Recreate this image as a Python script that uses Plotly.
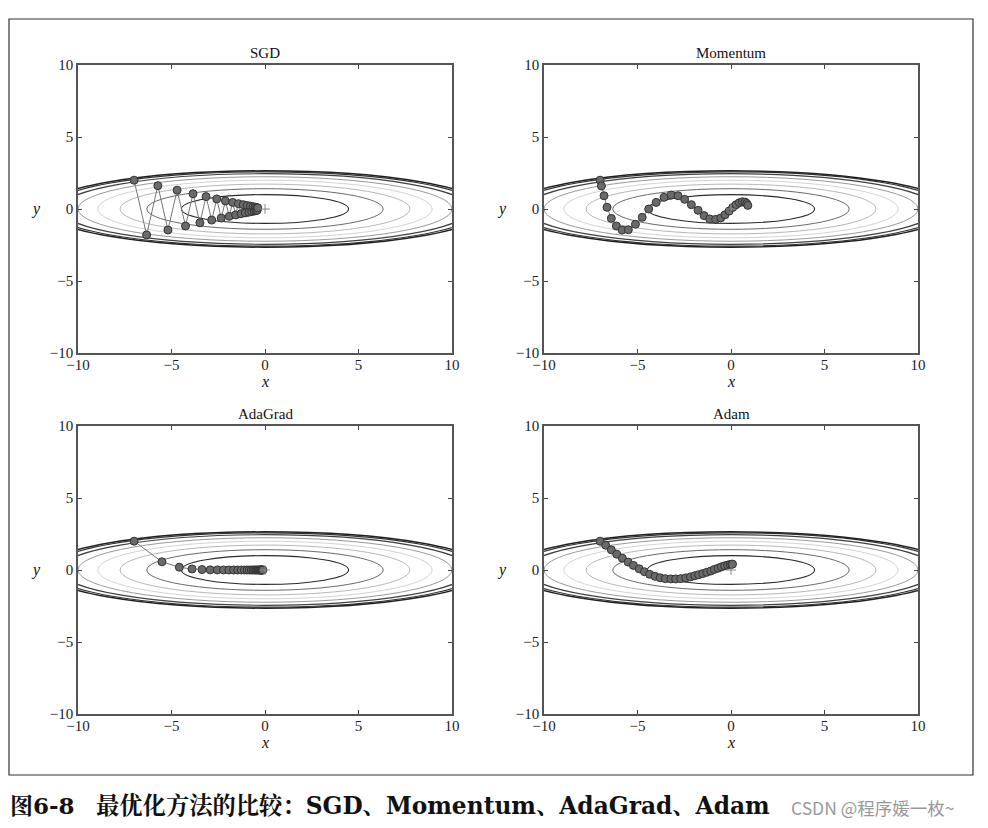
import plotly.graph_objects as go

# ---------------- data ----------------
titles = ["SGD", "Momentum", "AdaGrad", "Adam"]

sgd_x = [-7.0, -6.33, -5.73, -5.19, -4.70, -4.25, -3.85, -3.48, -3.15, -2.85, -2.58, -2.34, -2.12, -1.91,
         -1.73, -1.57, -1.42, -1.28, -1.16, -1.05, -0.95, -0.86, -0.78, -0.71, -0.64, -0.58, -0.53, -0.49,
         -0.45, -0.42, -0.39]
sgd_y = [2.0, -1.8, 1.62, -1.46, 1.31, -1.18, 1.06, -0.96, 0.86, -0.77, 0.70, -0.63, 0.56, -0.51, 0.46,
         -0.41, 0.37, -0.33, 0.30, -0.27, 0.24, -0.22, 0.20, -0.18, 0.16, -0.14, 0.13, -0.12, 0.10, -0.09, 0.08]

mom_x = [-7.0, -6.93, -6.79, -6.63, -6.40, -6.13, -5.82, -5.49, -5.11, -4.75, -4.40, -4.00, -3.58, -3.20,
         -2.83, -2.48, -2.12, -1.76, -1.44, -1.14, -0.82, -0.55, -0.32, -0.10, 0.09, 0.27, 0.45, 0.61, 0.75, 0.84, 0.90]
mom_y = [2.0, 1.6, 0.92, 0.12, -0.65, -1.18, -1.46, -1.44, -1.06, -0.58, 0.0, 0.46, 0.81, 0.97, 0.92, 0.67,
         0.30, -0.09, -0.46, -0.69, -0.72, -0.62, -0.40, -0.14, 0.10, 0.30, 0.44, 0.50, 0.48, 0.38, 0.25]

ada_x = [-7.0, -5.51, -4.58, -3.90, -3.37, -2.93, -2.55, -2.22, -1.93, -1.68, -1.46, -1.27, -1.10, -0.96,
         -0.84, -0.73, -0.64, -0.56, -0.49, -0.43, -0.38, -0.33, -0.29, -0.26, -0.23, -0.20, -0.18, -0.16,
         -0.14, -0.13, -0.12]
ada_y = [2.0, 0.57, 0.19, 0.07, 0.03, 0.01, 0.005, 0.002, 0.001, 0.0, 0.0, 0.0, 0.0, 0.0, 0.0, 0.0, 0.0,
         0.0, 0.0, 0.0, 0.0, 0.0, 0.0, 0.0, 0.0, 0.0, 0.0, 0.0, 0.0, 0.0, 0.0]

adam_x = [-7.0, -6.70, -6.40, -6.11, -5.81, -5.50, -5.22, -4.91, -4.63, -4.35, -4.06, -3.79, -3.51, -3.22,
          -2.96, -2.69, -2.42, -2.17, -1.94, -1.73, -1.51, -1.30, -1.08, -0.89, -0.69, -0.51, -0.34, -0.18,
          -0.05, 0.04, 0.08]
adam_y = [2.0, 1.72, 1.40, 1.10, 0.82, 0.55, 0.32, 0.08, -0.12, -0.30, -0.44, -0.54, -0.60, -0.62, -0.62,
          -0.60, -0.55, -0.48, -0.40, -0.33, -0.25, -0.16, -0.07, 0.04, 0.13, 0.22, 0.29, 0.34, 0.38, 0.40, 0.41]

paths_x = [sgd_x, mom_x, ada_x, adam_x]
paths_y = [sgd_y, mom_y, ada_y, adam_y]

# contour ellipses of the objective around its minimum (semi-axes)
minimum_x = [0.0]
minimum_y = [0.0]
ellipse_rx = [4.47, 6.32, 7.75, 8.94, 10.0, 10.95, 11.55, 11.83]
ellipse_ry = [1.00, 1.41, 1.73, 2.00, 2.24, 2.45, 2.58, 2.65]
ellipse_col = ["#2a2a2a", "#6a6a6a", "#b8b8b8", "#d4d4d4", "#9a9a9a", "#404040", "#333333", "#222222"]
ellipse_w = [1.1, 1.0, 1.0, 1.0, 1.0, 1.2, 1.2, 1.5]

tick_vals = [-10, -5, 0, 5, 10]
tick_text = ["\u221210", "\u22125", "0", "5", "10"]
axis_range = [-10, 10]

caption_fig = "图6-8"
caption_text = "最优化方法的比较：SGD、Momentum、AdaGrad、Adam"
watermark = "CSDN @程序媛一枚~"

# ---------------- layout geometry ----------------
W, H = 988, 828
def fx(p): return p / W
def fy(p): return 1 - p / H

col_px = [(78, 452), (544, 918)]
row_px = [(65, 353), (426, 714)]

SERIF = "Liberation Serif, DejaVu Serif, serif"
CAP = "DejaVu Serif, Noto Serif CJK SC, Noto Sans CJK SC, serif"

fig = go.Figure()
layout = dict(width=W, height=H, margin=dict(l=0, r=0, t=0, b=0, pad=0, autoexpand=False),
              paper_bgcolor="white", plot_bgcolor="white", showlegend=False)

shapes = []
annotations = []
for i in range(4):
    r, c = divmod(i, 2)
    n = "" if i == 0 else str(i + 1)
    xa, ya = "x" + n, "y" + n
    axcommon = dict(range=axis_range, tickvals=tick_vals, ticktext=tick_text, ticks="inside", ticklen=4,
                    tickwidth=1, tickcolor="#444", showline=True, linecolor="#555", linewidth=1.5,
                    mirror="ticks", showgrid=False, zeroline=False, automargin=False,
                    tickfont=dict(family=SERIF, size=15, color="#222"))
    layout["xaxis" + n] = dict(axcommon, domain=[fx(col_px[c][0]), fx(col_px[c][1])], anchor=ya,
                               ticklabelstandoff=-3)
    layout["yaxis" + n] = dict(axcommon, domain=[fy(row_px[r][1]), fy(row_px[r][0])], anchor=xa)

    for rx, ry, col, w in zip(ellipse_rx, ellipse_ry, ellipse_col, ellipse_w):
        shapes.append(dict(type="circle", xref=xa, yref=ya, layer="below",
                           x0=minimum_x[0] - rx, x1=minimum_x[0] + rx,
                           y0=minimum_y[0] - ry, y1=minimum_y[0] + ry,
                           line=dict(color=col, width=w)))

    fig.add_trace(go.Scatter(x=paths_x[i], y=paths_y[i], xaxis=xa, yaxis=ya, mode="lines+markers",
                             line=dict(color="#777", width=1),
                             marker=dict(size=8, color="#6a6a6a", line=dict(color="#333", width=1)),
                             hoverinfo="skip"))
    fig.add_trace(go.Scatter(x=minimum_x, y=minimum_y, xaxis=xa, yaxis=ya, mode="markers",
                             marker=dict(symbol="cross-thin", size=7, line=dict(color="#888", width=1)),
                             hoverinfo="skip"))

    cx = (col_px[c][0] + col_px[c][1]) / 2
    annotations.append(dict(text=titles[i], xref="paper", yref="paper", x=fx(cx), y=fy(row_px[r][0] - 12),
                             showarrow=False, xanchor="center", yanchor="middle",
                             font=dict(family=SERIF, size=15, color="#111")))
    annotations.append(dict(text="<i>x</i>", xref="paper", yref="paper", x=fx(cx), y=fy(row_px[r][1] + 28),
                             showarrow=False, xanchor="center", yanchor="middle",
                             font=dict(family=SERIF, size=16, color="#111")))
    annotations.append(dict(text="<i>y</i>", xref="paper", yref="paper", x=fx(col_px[c][0] - 42),
                             y=fy((row_px[r][0] + row_px[r][1]) / 2), showarrow=False,
                             xanchor="center", yanchor="middle",
                             font=dict(family=SERIF, size=16, color="#111")))

# outer frame
shapes.append(dict(type="rect", xref="paper", yref="paper", x0=fx(9), x1=fx(973), y0=fy(775), y1=fy(19),
                   line=dict(color="#333", width=1.2)))

annotations.append(dict(text="<b>" + caption_fig + "</b>", xref="paper", yref="paper", x=fx(8), y=fy(805),
                         showarrow=False, xanchor="left", yanchor="middle",
                         font=dict(family=CAP, size=23, color="#111")))
annotations.append(dict(text="<b>" + caption_text + "</b>", xref="paper", yref="paper", x=fx(94), y=fy(805),
                         showarrow=False, xanchor="left", yanchor="middle",
                         font=dict(family=CAP, size=23.3, color="#111")))
annotations.append(dict(text=watermark, xref="paper", yref="paper", x=fx(789), y=fy(807),
                         showarrow=False, xanchor="left", yanchor="middle",
                         font=dict(family="Noto Sans CJK SC, sans-serif", size=17.5, color="#999")))

layout["shapes"] = shapes
layout["annotations"] = annotations
fig.update_layout(**layout)
fig.write_html("out.html",
               post_script="document.body.style.margin='0';document.body.style.overflow='hidden';")
